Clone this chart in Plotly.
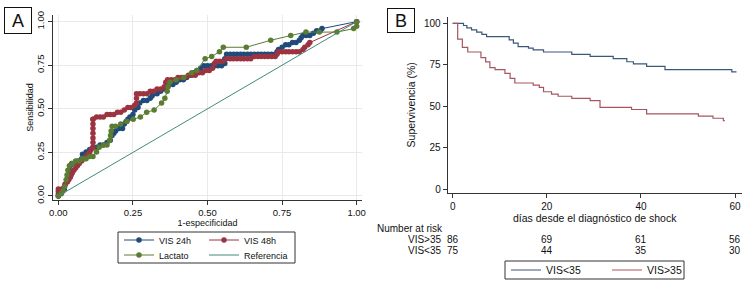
import plotly.graph_objects as go

# ---------------- Panel A data (ROC curves) ----------------
vis24_fpr = [0.000, 0.000, 0.012, 0.020, 0.023, 0.028, 0.034, 0.037, 0.040, 0.045, 0.058, 0.066, 0.078, 0.081,
             0.093, 0.105, 0.116, 0.128, 0.140, 0.151, 0.163, 0.174, 0.180, 0.186, 0.192, 0.203, 0.215, 0.221,
             0.227, 0.233, 0.240, 0.250, 0.256, 0.267, 0.273, 0.285, 0.297, 0.308, 0.314, 0.320, 0.331, 0.343,
             0.355, 0.366, 0.372, 0.384, 0.395, 0.407, 0.419, 0.430, 0.442, 0.453, 0.465, 0.477, 0.488, 0.500,
             0.512, 0.523, 0.535, 0.547, 0.558, 0.558, 0.564, 0.576, 0.588, 0.599, 0.611, 0.622, 0.634, 0.645,
             0.657, 0.669, 0.680, 0.692, 0.703, 0.715, 0.727, 0.733, 0.738, 0.750, 0.762, 0.773, 0.785, 0.797,
             0.808, 0.814, 0.820, 0.831, 0.843, 0.855, 0.866, 0.878, 0.884, 1.000]
vis24_tpr = [0.000, 0.013, 0.027, 0.040, 0.067, 0.093, 0.120, 0.147, 0.173, 0.187, 0.187, 0.200, 0.213, 0.240,
             0.253, 0.267, 0.280, 0.280, 0.293, 0.293, 0.307, 0.320, 0.347, 0.360, 0.373, 0.387, 0.387, 0.413,
             0.427, 0.440, 0.453, 0.467, 0.493, 0.507, 0.533, 0.547, 0.547, 0.560, 0.573, 0.587, 0.587, 0.600,
             0.613, 0.627, 0.640, 0.640, 0.653, 0.667, 0.667, 0.680, 0.693, 0.707, 0.720, 0.733, 0.747, 0.747,
             0.747, 0.747, 0.747, 0.747, 0.760, 0.787, 0.813, 0.813, 0.813, 0.813, 0.813, 0.813, 0.813, 0.813,
             0.813, 0.813, 0.813, 0.813, 0.813, 0.813, 0.813, 0.827, 0.840, 0.853, 0.867, 0.867, 0.880, 0.880,
             0.893, 0.907, 0.920, 0.920, 0.920, 0.933, 0.947, 0.947, 0.960, 1.000]

vis48_fpr = [0.000, 0.000, 0.000, 0.012, 0.020, 0.023, 0.030, 0.035, 0.040, 0.043, 0.047, 0.052, 0.058, 0.064,
             0.070, 0.078, 0.087, 0.093, 0.099, 0.105, 0.110, 0.116, 0.116, 0.116, 0.116, 0.116, 0.116, 0.116,
             0.116, 0.128, 0.140, 0.151, 0.163, 0.174, 0.186, 0.198, 0.209, 0.221, 0.233, 0.244, 0.256, 0.262,
             0.262, 0.262, 0.273, 0.285, 0.297, 0.308, 0.320, 0.331, 0.343, 0.355, 0.360, 0.366, 0.378, 0.390,
             0.401, 0.413, 0.424, 0.436, 0.448, 0.459, 0.471, 0.483, 0.494, 0.506, 0.517, 0.523, 0.529, 0.541,
             0.552, 0.564, 0.576, 0.587, 0.599, 0.611, 0.622, 0.634, 0.645, 0.657, 0.669, 0.680, 0.692, 0.703,
             0.715, 0.727, 0.733, 0.738, 0.750, 0.762, 0.773, 0.785, 0.797, 0.808, 0.820, 0.826, 0.837, 0.843,
             1.000]
vis48_tpr = [0.000, 0.027, 0.040, 0.040, 0.053, 0.067, 0.080, 0.093, 0.107, 0.120, 0.133, 0.147, 0.160, 0.173,
             0.187, 0.200, 0.213, 0.227, 0.240, 0.253, 0.267, 0.280, 0.307, 0.333, 0.360, 0.387, 0.413, 0.440,
             0.440, 0.453, 0.453, 0.453, 0.467, 0.467, 0.467, 0.480, 0.480, 0.493, 0.507, 0.507, 0.520, 0.533,
             0.560, 0.587, 0.587, 0.587, 0.587, 0.600, 0.600, 0.613, 0.613, 0.627, 0.653, 0.667, 0.667, 0.667,
             0.680, 0.680, 0.680, 0.693, 0.693, 0.693, 0.707, 0.707, 0.720, 0.720, 0.733, 0.760, 0.773, 0.773,
             0.773, 0.787, 0.787, 0.787, 0.787, 0.787, 0.787, 0.787, 0.787, 0.800, 0.800, 0.800, 0.800, 0.800,
             0.800, 0.800, 0.813, 0.827, 0.827, 0.827, 0.827, 0.827, 0.827, 0.827, 0.840, 0.853, 0.867, 0.880,
             1.000]

lact_fpr = [0.000, 0.010, 0.015, 0.021, 0.026, 0.029, 0.032, 0.037, 0.048, 0.058, 0.070, 0.081, 0.093, 0.105,
            0.116, 0.128, 0.137, 0.151, 0.163, 0.172, 0.175, 0.177, 0.180, 0.192, 0.209, 0.230, 0.251, 0.275,
            0.296, 0.321, 0.346, 0.357, 0.365, 0.368, 0.374, 0.395, 0.420, 0.447, 0.464, 0.492, 0.514, 0.540,
            0.553, 0.630, 0.712, 0.779, 0.830, 0.875, 0.934, 0.990, 1.000, 1.000]
lact_tpr = [0.000, 0.013, 0.027, 0.053, 0.093, 0.120, 0.147, 0.173, 0.187, 0.200, 0.200, 0.213, 0.213, 0.227,
            0.227, 0.253, 0.280, 0.293, 0.293, 0.320, 0.347, 0.373, 0.400, 0.400, 0.413, 0.427, 0.440, 0.453,
            0.480, 0.493, 0.533, 0.560, 0.600, 0.627, 0.653, 0.667, 0.680, 0.707, 0.720, 0.787, 0.800, 0.827,
            0.853, 0.853, 0.893, 0.920, 0.940, 0.940, 0.940, 0.960, 0.973, 1.000]

ref_x = [0, 1]
ref_y = [0, 1]

roc_ticks = [0, 0.25, 0.5, 0.75, 1.0]
roc_ticktext = ["0.00", "0.25", "0.50", "0.75", "1.00"]

# ---------------- Panel B data (Kaplan-Meier) ----------------
km_low_t = [0, 2.3, 3.0, 4.0, 5.1, 6.2, 7.2, 12.0, 12.9, 13.9, 16.1, 17.1, 19.3, 25.3, 29.2, 34.1,
            37.0, 38.4, 41.2, 45.1, 59.3, 60.3]
km_low_s = [100, 98.7, 97.3, 96.0, 94.7, 93.3, 92.0, 90.0, 88.0, 86.0, 85.0, 84.0, 82.7, 81.3, 80.0, 78.7,
            76.8, 75.5, 74.0, 72.0, 70.7, 70.7]

km_high_t = [0, 1.06, 2.05, 3.2, 6.0, 7.0, 7.9, 9.0, 11.1, 12.2, 13.2, 17.1, 18.4, 19.3, 21.0, 22.4,
             25.3, 29.2, 31.3, 38.0, 41.2, 52.2, 55.3, 57.5, 57.8]
km_high_s = [100, 90.5, 85.5, 82.7, 79.3, 76.7, 73.3, 72.0, 69.8, 66.8, 64.0, 62.7, 61.3, 58.7, 57.3, 56.0,
             54.7, 53.3, 49.3, 48.0, 45.3, 44.0, 42.7, 41.3, 41.3]

km_ticks_x = [0, 20, 40, 60]
km_ticks_y = [0, 25, 50, 75, 100]

risk_times = [0, 20, 40, 60]
risk_labels = ["VIS>35", "VIS<35"]
risk_high = [86, 69, 61, 56]
risk_low = [75, 44, 35, 30]

# ---------------- Styling ----------------
W, H = 750, 282
BLUE = "#1f4b7a"
RED = "#9b3440"
GREEN = "#5b7c33"
TEAL = "#428a7c"
KM_BLUE = "#3b5779"
KM_RED = "#a65661"
AX = "#333333"
FONT = "Liberation Sans, Arial, sans-serif"


def px_x(p):
    return p / W


def px_y(p):
    return 1 - p / H


fig = go.Figure()

mk = dict(size=5.5)
fig.add_trace(go.Scatter(x=vis24_fpr, y=vis24_tpr, mode="lines+markers", name="VIS 24h",
                         line=dict(color=BLUE, width=1), marker=dict(color=BLUE, **mk),
                         xaxis="x", yaxis="y", legend="legend"))
fig.add_trace(go.Scatter(x=vis48_fpr, y=vis48_tpr, mode="lines+markers", name="VIS 48h",
                         line=dict(color=RED, width=1), marker=dict(color=RED, **mk),
                         xaxis="x", yaxis="y", legend="legend"))
fig.add_trace(go.Scatter(x=lact_fpr, y=lact_tpr, mode="lines+markers", name="Lactato",
                         line=dict(color=GREEN, width=1), marker=dict(color=GREEN, **mk),
                         xaxis="x", yaxis="y", legend="legend3"))
fig.add_trace(go.Scatter(x=ref_x, y=ref_y, mode="lines", name="Referencia",
                         line=dict(color=TEAL, width=1),
                         xaxis="x", yaxis="y", legend="legend3"))

fig.add_trace(go.Scatter(x=km_low_t, y=km_low_s, mode="lines", name="VIS<35", line_shape="hv",
                         line=dict(color=KM_BLUE, width=1.2), xaxis="x2", yaxis="y2", legend="legend2"))
fig.add_trace(go.Scatter(x=km_high_t, y=km_high_s, mode="lines", name="VIS>35", line_shape="hv",
                         line=dict(color=KM_RED, width=1.2), xaxis="x2", yaxis="y2", legend="legend2"))

axis_common = dict(showline=True, linecolor=AX, linewidth=1, ticks="outside", ticklen=4,
                   tickcolor=AX, zeroline=False, tickfont=dict(size=9.5, color="#111"))

annotations = []
# Panel labels
annotations.append(dict(text="A", xref="paper", yref="paper", x=px_x(18), y=px_y(20.5),
                        xanchor="center", yanchor="middle", showarrow=False, width=24, height=23,
                        borderpad=1, bordercolor="#111", borderwidth=1, bgcolor="white",
                        font=dict(size=18, color="#111")))
annotations.append(dict(text="B", xref="paper", yref="paper", x=px_x(401), y=px_y(20.5),
                        xanchor="center", yanchor="middle", showarrow=False, width=24, height=21,
                        borderpad=1, bordercolor="#111", borderwidth=1, bgcolor="white",
                        font=dict(size=18, color="#111")))
# Number at risk table
annotations.append(dict(text="Number at risk", xref="paper", yref="paper", x=px_x(375), y=px_y(228.5),
                        xanchor="left", yanchor="middle", showarrow=False, font=dict(size=10, color="#111")))
for row, (lab, vals) in enumerate(zip(risk_labels, [risk_high, risk_low])):
    ypx = 239.5 + row * 10.8
    annotations.append(dict(text=lab, xref="paper", yref="paper", x=px_x(444), y=px_y(ypx),
                            xanchor="right", yanchor="middle", showarrow=False,
                            font=dict(size=10, color="#111")))
    for t, v in zip(risk_times, vals):
        annotations.append(dict(text=str(v), xref="x2", yref="paper", x=t, y=px_y(ypx),
                                xanchor="center", yanchor="middle", showarrow=False,
                                font=dict(size=10, color="#111")))

# legend frames
shapes = [
    dict(type="rect", xref="paper", yref="paper", x0=px_x(118), x1=px_x(295), y0=px_y(263), y1=px_y(232),
         line=dict(color="#333", width=1), fillcolor="rgba(0,0,0,0)", layer="below"),
    dict(type="rect", xref="paper", yref="paper", x0=px_x(505), x1=px_x(684), y0=px_y(279), y1=px_y(261),
         line=dict(color="#333", width=1), fillcolor="rgba(0,0,0,0)", layer="below"),
]

leg_common = dict(orientation="h", xanchor="left", yanchor="middle", entrywidthmode="pixels",
                  borderwidth=0, itemwidth=30, bgcolor="rgba(0,0,0,0)")

fig.update_layout(
    width=W, height=H, autosize=False,
    margin=dict(l=0, r=0, t=0, b=0, autoexpand=False),
    paper_bgcolor="white", plot_bgcolor="white",
    font=dict(family=FONT, color="#111"),
    xaxis=dict(domain=[px_x(53), px_x(362)], range=[-0.018, 1.018], anchor="y",
               tickvals=roc_ticks, ticktext=roc_ticktext, showgrid=True, gridcolor="#e9e9e9",
               title=dict(text="1-especificidad", font=dict(size=9), standoff=0), **axis_common),
    yaxis=dict(domain=[px_y(200), px_y(15)], range=[-0.023, 1.038], anchor="x",
               tickvals=roc_ticks, ticktext=roc_ticktext, showgrid=True, gridcolor="#e9e9e9",
               tickangle=-90,
               title=dict(text="Sensibilidad", font=dict(size=9), standoff=0), **axis_common),
    xaxis2=dict(domain=[px_x(447.7), px_x(741.7)], range=[-1.06, 61.4], anchor="y2",
                tickvals=km_ticks_x, showgrid=False,
                title=dict(text="días desde el diagnóstico de shock", font=dict(size=10.5), standoff=2),
                **{**axis_common, "tickfont": dict(size=10, color="#111")}),
    yaxis2=dict(domain=[px_y(193), px_y(16.7)], range=[-2.4, 104], anchor="x2",
                tickvals=km_ticks_y, showgrid=False,
                title=dict(text="Supervivencia (%)", font=dict(size=10.5), standoff=6),
                **{**axis_common, "tickfont": dict(size=10, color="#111")}),
    legend=dict(x=px_x(119), y=px_y(240), entrywidth=40, font=dict(size=9, color="#111"), **leg_common),
    legend3=dict(x=px_x(119), y=px_y(255), entrywidth=40, font=dict(size=9, color="#111"), **leg_common),
    legend2=dict(x=px_x(506), y=px_y(270), entrywidth=56, font=dict(size=10.5, color="#111"), **leg_common),
    annotations=annotations,
    shapes=shapes,
    showlegend=True,
)

fig.write_html("out.html",
               config={"displayModeBar": False},
               post_script="document.body.style.margin='0';document.body.style.padding='0';"
                           "document.body.style.overflow='hidden';")
